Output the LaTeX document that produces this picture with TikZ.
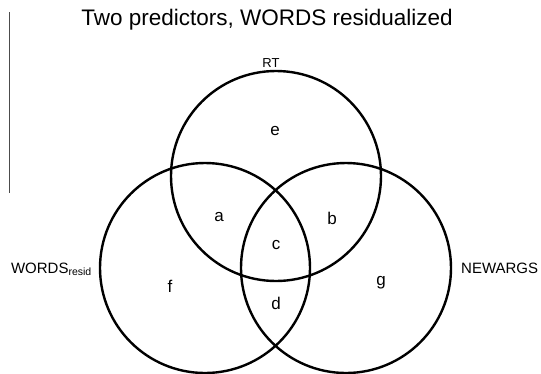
\documentclass[tikz,border=0pt]{standalone}
\usepackage{fontspec}
\setmainfont{Liberation Sans}
\begin{document}
\begin{tikzpicture}[x=1pt,y=-1pt,
  venn/.style={draw=black,line width=2.4pt},
  lbl/.style={font=\fontsize{17}{19}\selectfont,inner sep=0pt},
  setname/.style={font=\fontsize{15}{17}\selectfont,inner sep=0pt}]
\useasboundingbox (0,0) rectangle (541,373);
\draw[venn] (276,176) circle (105);
\draw[venn] (205,268) circle (105);
\draw[venn] (346,268) circle (105);
\coordinate (v1) at (9,12);
\coordinate (v2) at (9,193);
\draw[line width=0.8pt,black!70] (v1) -- (v2);
\node[font=\fontsize{22.5}{25}\selectfont,inner sep=0pt] (title) at (267,20) {Two predictors, WORDS residualized};
\node[font=\fontsize{13}{15}\selectfont,inner sep=0pt,anchor=base] (rt) at (271,67) {RT};
\node[setname,anchor=base east] (words) at (92,273) {WORDS\textsubscript{resid}};
\node[setname,anchor=base west] (newargs) at (461,273) {NEWARGS};
\node[lbl] (e) at (275,131) {e};
\node[lbl] (a) at (219,217) {a};
\node[lbl] (b) at (332,218) {b};
\node[lbl] (c) at (276,245) {c};
\node[lbl] (f) at (170,286) {f};
\node[lbl] (d) at (276,303) {d};
\node[lbl] (g) at (381,283) {g};
\end{tikzpicture}
\end{document}
